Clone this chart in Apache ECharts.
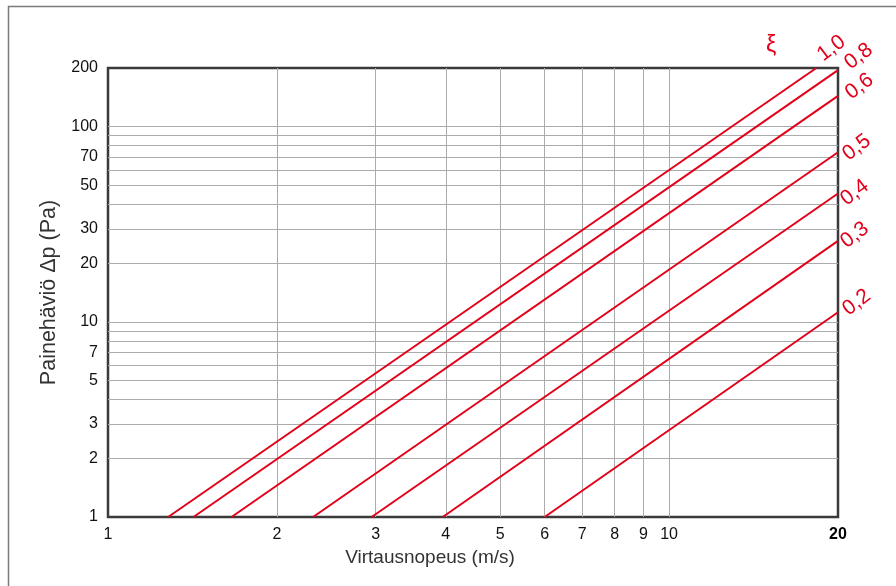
<!DOCTYPE html>
<html>
<head>
<meta charset="utf-8">
<script src="https://cdn.jsdelivr.net/npm/echarts@6/dist/echarts.min.js"></script>
<style>
html,body{margin:0;padding:0;background:#fff;}
#chart{width:896px;height:586px;}
</style>
</head>
<body>
<div id="chart"></div>
<script>
// Loss coefficient names (labels at the line ends)
const xiNames = ['1,0', '0,8', '0,6', '0,5', '0,4', '0,3', '0,2'];
// Start points (velocity m/s at Δp = 1 Pa) and end points
const lineStart = [[1.28, 1], [1.42, 1], [1.66, 1], [2.32, 1], [2.95, 1], [3.95, 1], [6.0, 1]];
const lineEnd = [[18.3, 200], [20, 195], [20, 144], [20, 74], [20, 45.5], [20, 26], [20, 11.2]];
// Label nudges for the ξ values (in the rotated label frame)
const labelOffsets = [[6, -9], [7, -1], [5, 3], [0, 5], [-4, 7], [-1, 3], [3, 1]];
// Tick labels
const xTicks = [1, 2, 3, 4, 5, 6, 7, 8, 9, 10, 20];
const yTicks = [1, 2, 3, 5, 7, 10, 20, 30, 50, 70, 100, 200];
// Grid lines
const xGrid = [2, 3, 4, 5, 6, 7, 8, 9, 10];
const yGrid = [2, 3, 4, 5, 6, 7, 8, 9, 10, 20, 30, 40, 50, 60, 70, 80, 90, 100];

const RED = '#e2001a';
const FONT = '"Liberation Sans", Arial, sans-serif';

const chart = echarts.init(document.getElementById('chart'), null, {renderer: 'canvas'});

const series = [];
series.push({
  name: 'grid',
  type: 'line',
  data: [[1, 1]],
  symbolSize: 0,
  silent: true,
  z: 1,
  markLine: {
    silent: true,
    symbol: ['none', 'none'],
    label: {show: false},
    lineStyle: {color: '#ababab', width: 1, type: 'solid'},
    emphasis: {disabled: true},
    data: xGrid.map(v => ({xAxis: v})).concat(yGrid.map(v => ({yAxis: v})))
  }
});
xiNames.forEach((nm, i) => {
  series.push({
    name: nm,
    type: 'line',
    zlevel: 1,
    z: 3,
    symbol: 'circle',
    symbolSize: 0,
    showSymbol: true,
    silent: true,
    lineStyle: {color: RED, width: 2},
    itemStyle: {color: RED},
    data: [
      lineStart[i],
      {
        value: lineEnd[i],
        label: {
          show: true,
          formatter: nm,
          position: 'right',
          distance: 4,
          rotate: 37,
          align: 'left',
          verticalAlign: 'middle',
          offset: labelOffsets[i],
          color: RED,
          fontSize: 21,
          fontFamily: FONT
        }
      }
    ]
  });
});

chart.setOption({
  animation: false,
  backgroundColor: '#fff',
  grid: {
    left: 108, right: 58, top: 68, bottom: 69,
    show: true, borderColor: '#3a3a3a', borderWidth: 2.5, backgroundColor: 'transparent'
  },
  graphic: [
    {
      type: 'rect',
      shape: {x: 8.5, y: 6.5, width: 900, height: 600},
      style: {fill: 'none', stroke: '#7a7a7a', lineWidth: 1.5},
      silent: true, z: -10
    },
    {
      type: 'text',
      left: 766, top: 34,
      style: {text: 'ξ', fill: RED, fontSize: 23, fontFamily: FONT}
    }
  ],
  xAxis: {
    type: 'log', logBase: 10, min: 1, max: 20,
    name: 'Virtausnopeus (m/s)',
    nameLocation: 'middle', nameGap: 31,
    nameTextStyle: {color: '#333', fontSize: 19, fontFamily: FONT, padding: [0, 86, 0, 0]},
    axisLine: {show: false},
    axisTick: {show: false},
    splitLine: {show: false},
    axisLabel: {
      customValues: xTicks,
      margin: 10,
      color: '#111', fontSize: 16, fontFamily: FONT,
      formatter: v => (Math.abs(v - 20) < 1e-6 ? '{b|20}' : String(Math.round(v))),
      rich: {b: {fontWeight: 'bold', fontSize: 16, color: '#000', fontFamily: FONT}}
    }
  },
  yAxis: {
    type: 'log', logBase: 10, min: 1, max: 200,
    name: 'Painehäviö Δp (Pa)',
    nameLocation: 'middle', nameGap: 46, nameRotate: 90,
    nameTextStyle: {color: '#333', fontSize: 21.5, fontFamily: FONT},
    axisLine: {show: false},
    axisTick: {show: false},
    splitLine: {show: false},
    axisLabel: {
      customValues: yTicks,
      margin: 10,
      color: '#111', fontSize: 16, fontFamily: FONT,
      formatter: v => String(Math.round(v))
    }
  },
  series: series
});
</script>
</body>
</html>
